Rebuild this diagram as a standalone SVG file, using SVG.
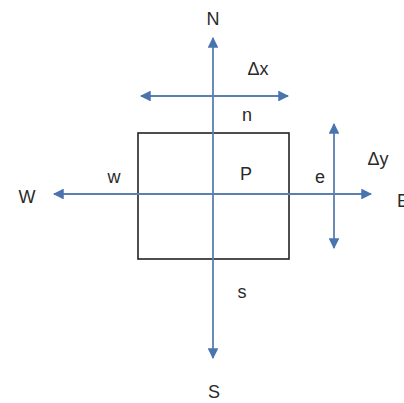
<svg xmlns="http://www.w3.org/2000/svg" width="404" height="403" viewBox="0 0 404 403">
<style>
.ax{stroke:#5b7fb0;stroke-width:1.8;fill:none}
.box{stroke:#222;stroke-width:1.6;fill:none}
text{font-family:"Liberation Sans",Arial,sans-serif;font-size:18px;fill:#2a2a2a;text-anchor:middle}
</style>
<defs>
<marker id="ah" viewBox="0 0 10 10" refX="9" refY="5" markerWidth="6" markerHeight="6" orient="auto-start-reverse" markerUnits="strokeWidth">
<path d="M0,0 L10,5 L0,10 z" fill="#4a74b0"/>
</marker>
</defs>
<rect width="404" height="403" fill="#fff"/>
<g id="cell"><rect class="box" x="138" y="133" width="151" height="126"/></g>
<g id="connectors">
<line class="ax" x1="213" y1="38" x2="213" y2="358" marker-start="url(#ah)" marker-end="url(#ah)"/>
<line class="ax" x1="54" y1="194" x2="371" y2="194" marker-start="url(#ah)" marker-end="url(#ah)"/>
<line class="ax" x1="141" y1="96" x2="288" y2="96" marker-start="url(#ah)" marker-end="url(#ah)"/>
<line class="ax" x1="334" y1="124" x2="334" y2="248" marker-start="url(#ah)" marker-end="url(#ah)"/>
</g>
<g id="labels">
<text x="213" y="25">N</text>
<text x="258" y="75">Δx</text>
<text x="247" y="121">n</text>
<text x="27" y="203">W</text>
<text x="114" y="183">w</text>
<text x="246" y="180">P</text>
<text x="320" y="183">e</text>
<text x="378" y="165">Δy</text>
<text x="397" y="207" style="text-anchor:start">E</text>
<text x="242" y="298">s</text>
<text x="214" y="398">S</text>
</g>
</svg>
